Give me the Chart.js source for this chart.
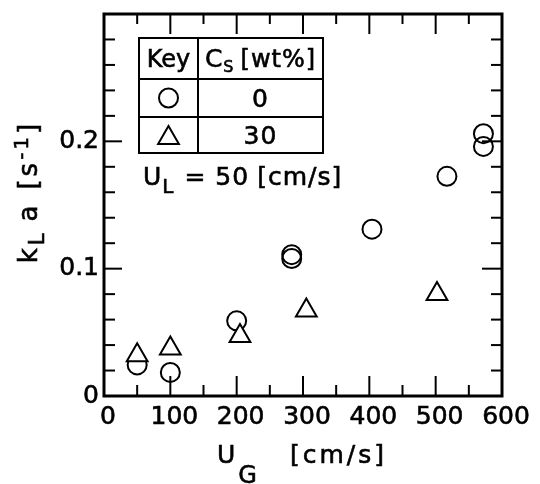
<!DOCTYPE html>
<html>
<head>
<meta charset="utf-8">
<script src="https://cdn.jsdelivr.net/npm/chart.js@4.4.0/dist/chart.umd.min.js"></script>
<style>
  html, body { margin: 0; padding: 0; background: #fff; }
  canvas { display: block; }
</style>
</head>
<body>
<canvas id="grafico" width="540" height="484"></canvas>
<script>
// U_G [cm/s] vs kLa [1/s], Cs = 0 wt%
const ug0 = [50, 100, 200, 283, 283, 404, 517, 572, 572];
const kla0 = [0.0244, 0.0185, 0.059, 0.111, 0.108, 0.131, 0.1725, 0.206, 0.196];
// Cs = 30 wt%
const ug30 = [50, 100, 205, 305, 502];
const kla30 = [0.032, 0.0374, 0.0472, 0.0672, 0.0802];

// ticks
const xLabelTicks = [0, 100, 200, 300, 400, 500, 600];
const yLabelTicks = [0, 0.1, 0.2];
const xMinorTicks = [50, 150, 250, 350, 450, 550];
const yMinorTicks = [0.02, 0.04, 0.06, 0.08, 0.12, 0.14, 0.16, 0.18, 0.22, 0.24, 0.26, 0.28];

const keyRows = ['0', '30'];

const FUENTE = '"DejaVu Sans"';
const TRAZO = 0.6; // engrosa un poco las letras

// texto con subindices / superindices, cada parte con su tamaño y desplazamiento
function textoCompuesto(ctx, partes, x, y, align, espacio) {
  ctx.letterSpacing = espacio + 'px';
  ctx.textAlign = 'left';
  ctx.textBaseline = 'alphabetic';
  ctx.strokeStyle = '#000';
  ctx.lineWidth = TRAZO;
  let ancho = 0;
  partes.forEach(p => {
    ctx.font = p.s + 'px ' + FUENTE;
    p.w = ctx.measureText(p.t).width;
    ancho += p.w + (p.gap || 0);
  });
  let cx = align === 'center' ? x - ancho / 2 : x;
  partes.forEach(p => {
    ctx.font = p.s + 'px ' + FUENTE;
    cx += (p.gap || 0);
    ctx.fillText(p.t, cx, y + (p.dy || 0));
    ctx.strokeText(p.t, cx, y + (p.dy || 0));
    cx += p.w;
  });
}

const marco = {
  id: 'marco',
  beforeDatasetsDraw(chart) {
    const { ctx, chartArea: a, scales: { x, y } } = chart;
    ctx.save();
    ctx.strokeStyle = '#000';
    ctx.lineCap = 'butt';
    ctx.lineWidth = 2;
    const linea = (x1, y1, x2, y2) => {
      ctx.beginPath(); ctx.moveTo(x1, y1); ctx.lineTo(x2, y2); ctx.stroke();
    };
    // marcas hacia adentro en los cuatro lados
    xLabelTicks.forEach(v => {
      const px = x.getPixelForValue(v);
      linea(px, a.bottom, px, a.bottom - 20);
      linea(px, a.top, px, a.top + 20);
    });
    xMinorTicks.forEach(v => {
      const px = x.getPixelForValue(v);
      linea(px, a.bottom, px, a.bottom - 11);
      linea(px, a.top, px, a.top + 10);
    });
    yLabelTicks.forEach(v => {
      const py = y.getPixelForValue(v);
      linea(a.left, py, a.left + 18, py);
      linea(a.right, py, a.right - 20, py);
    });
    yMinorTicks.forEach(v => {
      const py = y.getPixelForValue(v);
      linea(a.left, py, a.left + 11, py);
      linea(a.right, py, a.right - 11, py);
    });
    ctx.lineWidth = 3;
    ctx.strokeRect(a.left, a.top, a.right - a.left, a.bottom - a.top);
    ctx.restore();
  },
  afterDraw(chart) {
    const { ctx } = chart;
    ctx.save();
    ctx.fillStyle = '#000';

    // titulo eje x
    textoCompuesto(ctx, [
      { t: 'U', s: 25 },
      { t: 'G', s: 24, dy: 20 },
      { t: '[cm/s]', s: 25, gap: 30 }
    ], 302, 463, 'center', 3);

    // titulo eje y
    ctx.save();
    ctx.translate(37, 192);
    ctx.rotate(-Math.PI / 2);
    textoCompuesto(ctx, [
      { t: 'k', s: 26 },
      { t: 'L', s: 21, dy: 7 },
      { t: 'a', s: 26, gap: 9 },
      { t: '[s', s: 26, gap: 13 },
      { t: '-1', s: 20, dy: -9 },
      { t: ']', s: 26 }
    ], 0, 0, 'center', 3);
    ctx.restore();

    // tabla de claves
    const t = { l: 139, r: 323, c: 198, top: 38, f1: 79, f2: 117, bot: 153 };
    ctx.strokeStyle = '#000';
    ctx.lineWidth = 2;
    ctx.strokeRect(t.l, t.top, t.r - t.l, t.bot - t.top);
    ctx.beginPath();
    ctx.moveTo(t.c, t.top); ctx.lineTo(t.c, t.bot);
    ctx.moveTo(t.l, t.f1); ctx.lineTo(t.r, t.f1);
    ctx.moveTo(t.l, t.f2); ctx.lineTo(t.r, t.f2);
    ctx.stroke();

    const cKey = (t.l + t.c) / 2, cVal = (t.c + t.r) / 2;
    textoCompuesto(ctx, [{ t: 'Key', s: 24 }], cKey, 67, 'center', 0);
    textoCompuesto(ctx, [
      { t: 'C', s: 25 },
      { t: 'S', s: 16, dy: 5 },
      { t: '[wt%]', s: 24, gap: 6 }
    ], cVal, 67, 'center', 1);

    const filas = [(t.f1 + t.f2) / 2, (t.f2 + t.bot) / 2];
    chart.data.datasets.forEach(ds => {
      const fy = filas[ds.fila];
      ctx.strokeStyle = '#000';
      ctx.fillStyle = ds.backgroundColor;
      ctx.lineWidth = ds.borderWidth;
      Chart.helpers.drawPoint(ctx, {
        pointStyle: ds.pointStyle, radius: ds.pointRadius, rotation: 0, borderWidth: ds.borderWidth
      }, cKey, fy + (ds.pointStyle === 'triangle' ? 3 : 0));
      ctx.fillStyle = '#000';
      textoCompuesto(ctx, [{ t: keyRows[ds.fila], s: 25 }], cVal, fy + 9, 'center', 1);
    });

    // condicion de liquido
    textoCompuesto(ctx, [
      { t: 'U', s: 25 },
      { t: 'L', s: 20, dy: 8 },
      { t: '= 50', s: 25, gap: 10 },
      { t: '[cm/s]', s: 25, gap: 8 }
    ], 143, 185, 'left', 1);

    ctx.restore();
  }
};

Chart.defaults.font.family = FUENTE;
Chart.defaults.font.size = 25;
Chart.defaults.color = '#000';

const ctx = document.getElementById('grafico').getContext('2d');
const grafico = new Chart(ctx, {
  type: 'scatter',
  data: {
    datasets: [
      {
        label: '30',
        fila: 1,
        order: 0,
        data: ug30.map((u, i) => ({ x: u, y: kla30[i] })),
        pointStyle: 'triangle',
        pointRadius: 12,
        borderWidth: 2,
        borderColor: '#000',
        backgroundColor: '#fff'
      },
      {
        label: '0',
        fila: 0,
        order: 1,
        data: ug0.map((u, i) => ({ x: u, y: kla0[i] })),
        pointStyle: 'circle',
        pointRadius: 9.5,
        borderWidth: 2,
        borderColor: '#000',
        backgroundColor: 'rgba(0,0,0,0)'
      }
    ]
  },
  options: {
    responsive: false,
    animation: false,
    devicePixelRatio: 1,
    layout: { padding: { top: 6, right: 38, left: 0, bottom: 0 } },
    plugins: { legend: { display: false }, tooltip: { enabled: false } },
    scales: {
      x: {
        type: 'linear',
        min: 0,
        max: 600,
        grid: { display: false, drawTicks: false },
        border: { display: false },
        afterBuildTicks: s => { s.ticks = xLabelTicks.map(v => ({ value: v })); },
        afterFit: s => { s.height = 88; s.paddingLeft = 0; s.paddingRight = 0; },
        ticks: {
          padding: 6, labelOffset: 4, maxRotation: 0, autoSkip: false,
          textStrokeColor: '#000', textStrokeWidth: TRAZO,
          callback: v => String(v)
        }
      },
      y: {
        type: 'linear',
        min: 0,
        max: 0.3,
        grid: { display: false, drawTicks: false },
        border: { display: false },
        afterBuildTicks: s => { s.ticks = yLabelTicks.map(v => ({ value: v })); },
        afterFit: s => { s.width = 104; s.paddingTop = 0; s.paddingBottom = 0; },
        ticks: {
          padding: 5, autoSkip: false,
          textStrokeColor: '#000', textStrokeWidth: TRAZO,
          callback: v => String(v)
        }
      }
    }
  },
  plugins: [marco]
});
</script>
</body>
</html>
